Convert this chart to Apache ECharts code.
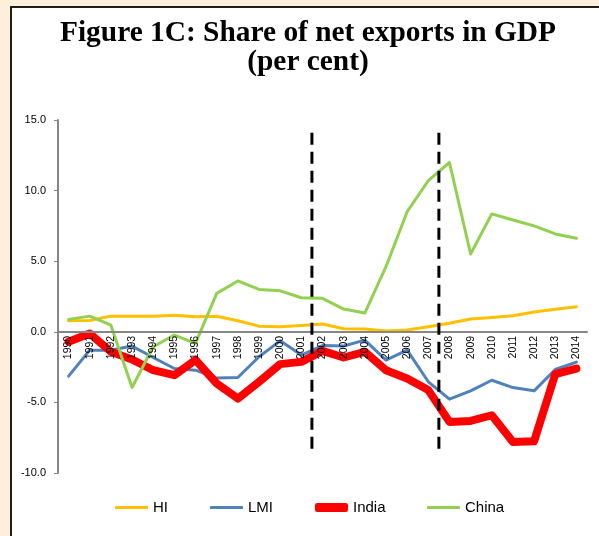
<!DOCTYPE html>
<html>
<head>
<meta charset="utf-8">
<script src="https://cdn.jsdelivr.net/npm/echarts@6/dist/echarts.min.js"></script>
<style>
  html, body { margin: 0; padding: 0; background: #fdefd9; }
  .frame {
    position: absolute; left: 10px; top: 6px; width: 600px; height: 540px;
    background: #fff; border-left: 2px solid #1e1e1e; border-top: 2px solid #1e1e1e;
  }
  #chart { position: absolute; left: 0; top: 0; width: 599px; height: 536px; }
</style>
</head>
<body>
<div class="frame"></div>
<div id="chart"></div>
<script>
// values (per cent of GDP)
const years = ['1990', '1991', '1992', '1993', '1994', '1995', '1996', '1997', '1998', '1999',
  '2000', '2001', '2002', '2003', '2004', '2005', '2006', '2007', '2008', '2009',
  '2010', '2011', '2012', '2013', '2014']
const hi = [0.78, 0.8, 1.11, 1.1, 1.1, 1.18, 1.06, 1.1, 0.78, 0.4,
  0.36, 0.45, 0.55, 0.22, 0.2, 0.05, 0.12, 0.36, 0.6, 0.9,
  1.02, 1.14, 1.4, 1.6, 1.78]
const lmi = [-3.14, -1.3, -1.3, -1.01, -1.82, -2.6, -2.72, -3.28, -3.24, -1.77,
  -0.64, -1.65, -0.97, -1.01, -0.59, -2.0, -1.3, -3.54, -4.77, -4.18,
  -3.43, -3.95, -4.18, -2.67, -2.15]
const india = [-0.71, -0.12, -1.42, -1.96, -2.72, -3.07, -2.0, -3.66, -4.73, -3.55,
  -2.29, -2.13, -1.35, -1.82, -1.42, -2.72, -3.31, -4.13, -6.38, -6.31,
  -5.91, -7.8, -7.75, -3.0, -2.6]
const china = [0.88, 1.11, 0.47, -3.94, -1.06, -0.23, -0.82, 2.72, 3.6, 3.0,
  2.9, 2.41, 2.37, 1.61, 1.33, 4.61, 8.5, 10.7, 11.99, 5.51,
  8.35, 7.92, 7.5, 6.93, 6.62]
const yTicks = [-10, -5, 0, 5, 10, 15]
// dashed dividers sit at the start of these years
const dividerYears = ['2002', '2008']
const dividerSpan = [14.1, -8.3]

const gridTop = 120
const gridBottom = 63
const chart = echarts.init(document.getElementById('chart'))

// the category axis (with its labels) sits on the zero line
const plotH = 536 - gridTop - gridBottom
const yMin = yTicks[0]
const yMax = yTicks[yTicks.length - 1]
const zeroOffset = -plotH * (0 - yMin) / (yMax - yMin)

const legendText = { color: '#000', fontSize: 15, fontFamily: 'Arial, "Liberation Sans"' }
function legendFor(name, left, h) {
  return {
    data: [name], left: left, top: 500, icon: 'roundRect',
    itemWidth: 33, itemHeight: h, padding: 0,
    textStyle: legendText,
  }
}

const dividers = dividerYears.map(function (y) {
  const x = years.indexOf(y)
  return {
    type: 'line',
    xAxisIndex: 1,
    silent: true,
    symbol: 'none',
    z: 5,
    lineStyle: { color: '#000', width: 3, type: [12, 7] },
    data: dividerSpan.map(function (v) { return [x, v] }),
  }
})

const option = {
  animation: false,
  title: {
    text: 'Figure 1C: Share of net exports in GDP\n(per cent)',
    left: 308,
    top: 19,
    textAlign: 'center',
    padding: 0,
    textStyle: {
      fontFamily: '"Liberation Serif", "Times New Roman", serif',
      fontWeight: 'bold',
      fontSize: 29.4,
      lineHeight: 29,
      color: '#000',
    },
  },
  legend: [
    legendFor('HI', 115, 3),
    legendFor('LMI', 210, 3),
    legendFor('India', 315, 9),
    legendFor('China', 427, 3),
  ],
  grid: { left: 58, right: 12, top: gridTop, bottom: gridBottom },
  xAxis: [
    {
      type: 'category',
      data: years,
      position: 'bottom',
      offset: zeroOffset,
      z: 4,
      axisLine: { onZero: false, lineStyle: { color: '#868686', width: 2 } },
      axisTick: { length: 4, lineStyle: { color: '#868686' } },
      axisLabel: {
        interval: 0, rotate: 90, margin: 4,
        color: '#000', fontSize: 10.5, fontFamily: 'Arial, "Liberation Sans"',
      },
    },
    { type: 'value', min: 0, max: years.length, show: false },
  ],
  yAxis: {
    type: 'value',
    min: yMin,
    max: yMax,
    interval: 5,
    splitLine: { show: false },
    axisLine: { show: true, lineStyle: { color: '#868686', width: 2 } },
    axisTick: { show: true, length: 4, lineStyle: { color: '#868686' } },
    axisLabel: {
      margin: 12, color: '#000', fontSize: 11, fontFamily: 'Arial, "Liberation Sans"',
      formatter: function (v) { return v.toFixed(1) },
    },
  },
  series: [
    {
      name: 'HI', type: 'line', data: hi, symbol: 'none',
      itemStyle: { color: '#FFC000' },
      lineStyle: { color: '#FFC000', width: 3, join: 'round', cap: 'round' },
    },
    {
      name: 'LMI', type: 'line', data: lmi, symbol: 'none',
      itemStyle: { color: '#4F81BD' },
      lineStyle: { color: '#4F81BD', width: 3, join: 'round', cap: 'round' },
    },
    {
      name: 'India', type: 'line', data: india, symbol: 'none',
      itemStyle: { color: '#FF0000' },
      lineStyle: { color: '#FF0000', width: 8, join: 'round', cap: 'round' },
    },
    {
      name: 'China', type: 'line', data: china, symbol: 'none',
      itemStyle: { color: '#92D050' },
      lineStyle: { color: '#92D050', width: 3, join: 'round', cap: 'round' },
    },
  ].concat(dividers),
}

chart.setOption(option)
</script>
</body>
</html>
